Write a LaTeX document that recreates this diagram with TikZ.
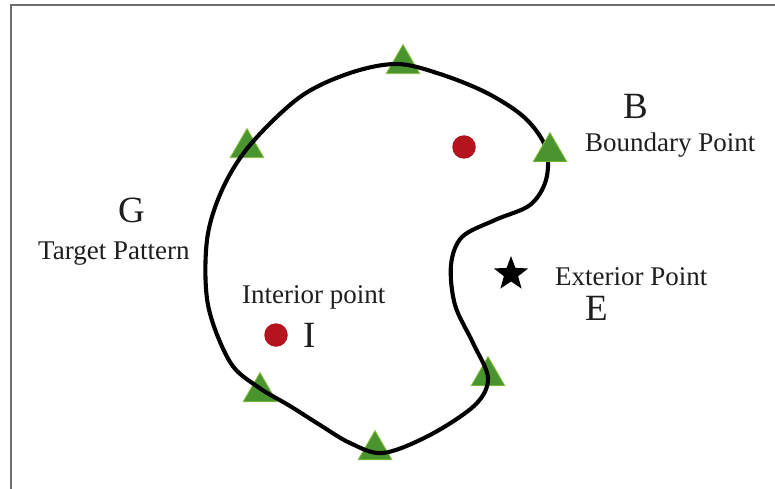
\documentclass[tikz,border=0pt]{standalone}
\usepackage{fontspec}
\setmainfont{Liberation Serif}
\usetikzlibrary{shapes.geometric}
\definecolor{trigreen}{HTML}{4A9430}
\definecolor{triedge}{HTML}{8CC43C}
\definecolor{dotred}{HTML}{B3141E}
\definecolor{framegray}{HTML}{6E6E6E}
\definecolor{txt}{HTML}{1E1E1E}
\begin{document}
\begin{tikzpicture}[x=1pt,y=-1pt,
  tri/.style={regular polygon,regular polygon sides=3,minimum size=39pt,inner sep=0pt,fill=trigreen,draw=triedge,line width=0.8pt},
  reddot/.style={circle,fill=dotred,minimum size=23.5pt,inner sep=0pt},
  smalltxt/.style={font=\fontsize{27}{30}\selectfont,text=txt,inner sep=0pt,anchor=base west},
  bigtxt/.style={font=\fontsize{37}{40}\selectfont,text=txt,inner sep=0pt,anchor=base west},
  outline/.style={line width=4.1pt,black}]
\useasboundingbox (0,0) rectangle (775,489);
% frame
\draw[framegray,line width=1.4pt] (11,489) -- (11,5) -- (775,5);
% triangles under the curve
\node[tri] (t1) at (403,64) {};
\node[tri] (t2) at (247,148) {};
\node[tri] (t4) at (488,376) {};
\node[tri] (t5) at (260,392) {};
\node[tri] (t6) at (375,450) {};
% curve
\draw[outline] plot[smooth cycle,tension=0.55] coordinates {
 (300,97) (350,73) (397,64) (440,74) (487,93) (525,118) (546,148)
 (546,180) (530,205) (495,220) (462,237) (451,265) (455,305) (473,343)
 (488,378) (475,405) (430,435) (383,453) (350,443) (320,425) (290,406)
 (258,387) (230,362) (208,305) (207,240) (222,190) (250,145)};
% boundary triangle over the curve
\node[tri] (t3) at (550,152) {};
% points
\node[reddot] (d1) at (464,147) {};
\node[reddot] (d2) at (276,335) {};
\node[star,star points=5,star point ratio=2.4,fill=black,minimum size=36pt,inner sep=0pt] (st) at (511,274) {};
% labels
\node[bigtxt] (lB) at (623,119) {B};
\node[smalltxt] (lBP) at (585,152) {Boundary Point};
\node[bigtxt] (lG) at (118,222) {G};
\node[smalltxt] (lTP) at (38,259) {Target Pattern};
\node[smalltxt] (lIP) at (242,303) {Interior point};
\node[bigtxt] (lI) at (303,347) {I};
\node[smalltxt] (lEP) at (555,285) {Exterior Point};
\node[bigtxt] (lE) at (585,320) {E};
\end{tikzpicture}
\end{document}
